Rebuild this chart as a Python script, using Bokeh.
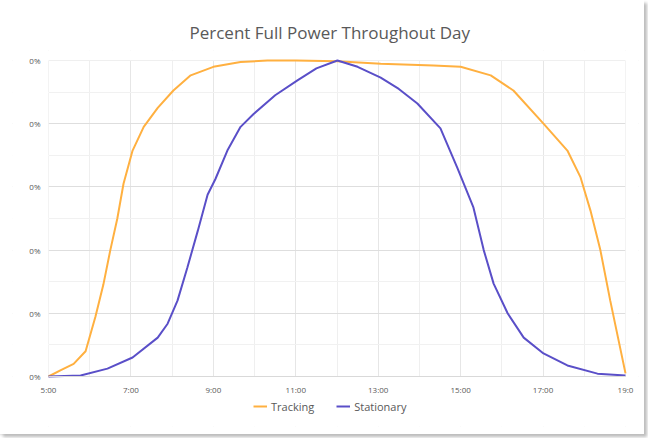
from bokeh.plotting import figure
from bokeh.models import FixedTicker, Legend, LegendItem, Range1d, CustomJSTickFormatter, BoxAnnotation
from bokeh.embed import file_html
from bokeh.resources import INLINE

# values (hour of day, fraction of full power)
tracking_hours = [5.0, 5.3, 5.61, 5.90, 6.14, 6.33, 6.50, 6.67, 6.82, 7.04, 7.31, 7.65, 8.03, 8.45, 9.0,
                  9.66, 10.31, 11.0, 12.0, 13.06, 14.34, 15.0, 15.73, 16.28, 17.01, 17.59, 17.91, 18.15,
                  18.39, 18.63, 19.0]
tracking = [0.0, 0.02, 0.04, 0.08, 0.19, 0.29, 0.40, 0.50, 0.61, 0.715, 0.79, 0.85, 0.905, 0.953, 0.98,
            0.995, 1.0, 1.0, 0.998, 0.99, 0.984, 0.98, 0.953, 0.905, 0.80, 0.715, 0.63, 0.525,
            0.40, 0.24, 0.01]
stationary_hours = [5.0, 5.78, 6.43, 7.04, 7.65, 7.89, 8.13, 8.37, 8.62, 8.86, 9.05, 9.34, 9.66, 9.97,
                    10.5, 11.04, 11.5, 12.01, 12.5, 13.06, 13.5, 13.95, 14.51, 14.92, 15.31, 15.56,
                    15.80, 16.14, 16.53, 17.01, 17.59, 18.32, 19.0]
stationary = [0.0, 0.003, 0.025, 0.06, 0.123, 0.167, 0.24, 0.345, 0.46, 0.575, 0.625, 0.715, 0.79, 0.83,
              0.89, 0.937, 0.975, 1.0, 0.98, 0.946, 0.91, 0.864, 0.785, 0.66, 0.535, 0.40,
              0.294, 0.20, 0.123, 0.073, 0.035, 0.009, 0.003]
x_ticks = [5, 7, 9, 11, 13, 15, 17, 19]
x_minor = [6, 8, 10, 12, 14, 16, 18]
x_tick_labels = ["5:00", "7:00", "9:00", "11:00", "13:00", "15:00", "17:00", "19:0"]
y_ticks = [0.0, 0.2, 0.4, 0.6, 0.8, 1.0]
y_minor = [0.1, 0.3, 0.5, 0.7, 0.9]
y_tick_label = "0%"

FONT = "Open Sans"
TXT = "#595959"

# layout: the 5:00..19:00 span sits at x = 48..625 px, values 1..0 at y = 60..376 px
W, H = 644, 434
L, R, T, B = 12, 6, 50, 8
PX_H = 577.0 / 14.0
PX_V = 316.0
x_low = 5 - (48 - L) / PX_H
x_high = 19 + (W - R - 625) / PX_H
y_low = -((H - B) - 376) / PX_V
y_high = 1 + (60 - T) / PX_V

p = figure(width=W, height=H, output_backend="svg", toolbar_location=None,
           x_range=Range1d(x_low, x_high), y_range=Range1d(y_low, y_high),
           min_border_left=L, min_border_right=R, min_border_top=T, min_border_bottom=B)
p.styles = {"box-shadow": "3px 3px 3px #bdbdbd, -3px 0px 3px #c8c8c8"}

p.title.text = "Percent Full Power Throughout Day"
p.title.align = "left"
p.title.offset = 189 - L
p.title.text_font = FONT
p.title.text_font_size = "17px"
p.title.text_font_style = "normal"
p.title.text_color = TXT
if "standoff" in p.title.properties():
    p.title.standoff = 13
p.outline_line_color = None

p.xgrid.grid_line_color = "#e6e6e6"
p.xgrid.minor_grid_line_color = "#efefef"
p.ygrid.grid_line_color = "#dedede"
p.ygrid.minor_grid_line_color = "#f1f1f1"

# blank out the grid outside the 5:00..19:00 / 0..1 plotting area
for box in (BoxAnnotation(top=0), BoxAnnotation(bottom=1), BoxAnnotation(right=5), BoxAnnotation(left=19)):
    box.fill_color = "white"
    box.fill_alpha = 1.0
    box.line_color = None
    box.level = "underlay"
    p.add_layout(box)

l1 = p.line(tracking_hours, tracking, line_color="#FFB040", line_width=2)
l2 = p.line(stationary_hours, stationary, line_color="#5A4FC8", line_width=2)

p.xaxis.fixed_location = 0
p.xaxis.bounds = (5, 19)
p.yaxis.fixed_location = 5
p.yaxis.bounds = (0, 1)
p.xaxis.ticker = FixedTicker(ticks=x_ticks, minor_ticks=x_minor)
p.xaxis.major_label_overrides = {t: s for t, s in zip(x_ticks, x_tick_labels)}
p.yaxis.ticker = FixedTicker(ticks=y_ticks, minor_ticks=y_minor)
p.yaxis.formatter = CustomJSTickFormatter(code="return '%s';" % y_tick_label)

for ax in (p.xaxis, p.yaxis):
    ax.major_tick_line_color = None
    ax.minor_tick_line_color = None
    ax.major_label_text_font = FONT
    ax.major_label_text_font_size = "8px"
    ax.major_label_text_color = TXT
p.yaxis.axis_line_color = None
p.xaxis.axis_line_color = "#d9d9d9"
p.xaxis.major_label_standoff = 1
p.yaxis.major_label_standoff = 2

legend = Legend(items=[LegendItem(label="Tracking", renderers=[l1]),
                       LegendItem(label="Stationary", renderers=[l2])],
                orientation="horizontal", location=(253 - L, 12),
                label_text_font=FONT, label_text_font_size="11px", label_text_color=TXT,
                border_line_color=None, background_fill_alpha=0,
                glyph_width=14, glyph_height=16, label_height=16,
                spacing=22, label_standoff=4, margin=0, padding=4)
p.add_layout(legend, "center")

open("out.html", "w").write(file_html(p, INLINE))
